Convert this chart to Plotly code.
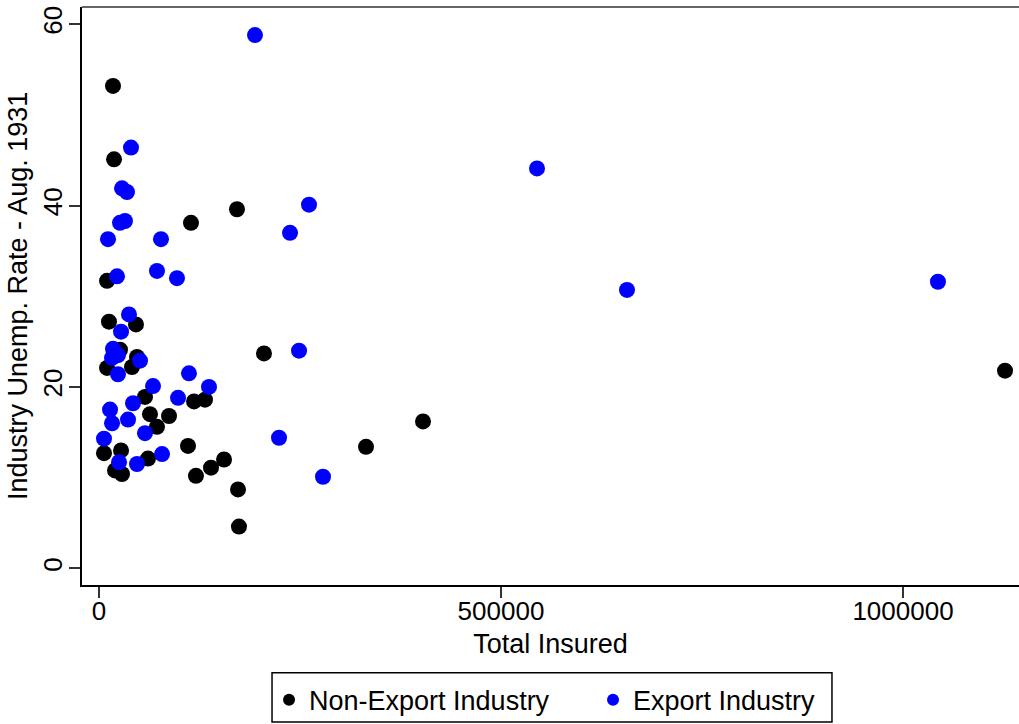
import plotly.graph_objects as go

# Non-Export Industry
nonexport_insured = [17400, 18700, 171600, 114400, 10000, 12400, 46000, 26100, 47300, 10000,
                     41000, 205200, 57200, 118200, 131800, 63400, 87100, 72100, 110700, 332100,
                     403000, 1126900, 6200, 27400, 60900, 155500, 19900, 28600, 120600, 139300,
                     172900, 174100]
nonexport_rate = [53.2, 45.1, 39.6, 38.1, 31.7, 27.2, 26.9, 24.1, 23.3, 22.1,
                  22.2, 23.7, 18.9, 18.4, 18.6, 17.0, 16.8, 15.6, 13.5, 13.4,
                  16.2, 21.8, 12.7, 13.0, 12.1, 12.0, 10.8, 10.4, 10.2, 11.1,
                  8.7, 4.6]

# Export Industry
export_insured = [194000, 544800, 656700, 1043500, 39800, 28600, 34800, 26100, 32300, 11200,
                  77100, 237600, 261200, 22400, 72100, 97000, 37300, 27400, 248800, 17400,
                  23600, 16200, 23600, 51000, 111900, 67200, 136800, 98300, 42300, 13700,
                  16200, 36100, 57200, 6200, 223900, 24900, 47300, 78400, 278600]
export_rate = [58.8, 44.1, 30.7, 31.6, 46.4, 41.9, 41.5, 38.1, 38.3, 36.3,
               36.3, 37.0, 40.1, 32.2, 32.8, 32.0, 28.0, 26.1, 24.0, 24.2,
               23.5, 23.2, 21.4, 22.9, 21.5, 20.1, 20.0, 18.8, 18.2, 17.5,
               16.0, 16.4, 14.9, 14.3, 14.4, 11.7, 11.5, 12.6, 10.1]

x_ticks = [0, 500000, 1000000]
x_ticklabels = ["0", "500000", "1000000"]
y_ticks = [0, 20, 40, 60]
y_title = "Industry Unemp. Rate - Aug. 1931"

FONT = "Liberation Sans, Arial, Helvetica, sans-serif"

fig = go.Figure()
fig.add_trace(go.Scatter(
    x=nonexport_insured, y=nonexport_rate, mode="markers", name="Non-Export Industry",
    marker=dict(color="#000000", size=16, line=dict(width=0)),
))
fig.add_trace(go.Scatter(
    x=export_insured, y=export_rate, mode="markers", name="Export Industry",
    marker=dict(color="#0000ff", size=16, line=dict(width=0)),
))

fig.update_layout(
    width=1019, height=724,
    margin=dict(l=82, r=0, t=7, b=139, autoexpand=False),
    paper_bgcolor="white", plot_bgcolor="white",
    font=dict(family=FONT, size=27, color="#000000"),
    showlegend=True,
    legend=dict(
        orientation="h", x=0.1996, xanchor="left", xref="paper",
        y=-0.157, yanchor="top",
        borderwidth=0, bgcolor="rgba(0,0,0,0)",
        font=dict(family=FONT, size=27, color="#000000"),
        itemsizing="constant",
        entrywidth=279,
    ),
    xaxis=dict(
        range=[-21150, 1144300],
        tickvals=x_ticks, ticktext=x_ticklabels,
        showgrid=False, zeroline=False, automargin=False,
        showline=True, linecolor="#000000", linewidth=2,
        ticks="outside", ticklen=11, tickwidth=2, tickcolor="#333333",
        ticklabelstandoff=-9,
        title=dict(text="Total Insured", font=dict(family=FONT, size=27), standoff=9),
        tickfont=dict(family=FONT, size=26),
    ),
    yaxis=dict(
        range=[-1.84, 61.9],
        tickvals=y_ticks,
        showgrid=False, zeroline=False, automargin=False,
        showline=True, linecolor="#000000", linewidth=2,
        ticks="outside", ticklen=11, tickwidth=2, tickcolor="#333333",
        tickangle=-90, ticklabelstandoff=-3,
        tickfont=dict(family=FONT, size=26),
    ),
    annotations=[dict(
        text=y_title, xref="paper", yref="paper", x=0, y=0.5,
        xanchor="center", yanchor="middle", xshift=-64, textangle=-90,
        showarrow=False, font=dict(family=FONT, size=27, color="#000000"),
    )],
    shapes=[
        dict(type="line", xref="paper", yref="paper", x0=0, x1=1, y0=1, y1=1,
             line=dict(color="#666666", width=2)),
        dict(type="rect", xref="paper", yref="paper", x0=0.2028, x1=0.8004, y0=-0.237, y1=-0.152,
             line=dict(color="#000000", width=1.5), fillcolor="rgba(0,0,0,0)"),
    ],
)

fig.write_html("out.html", config={"displayModeBar": False},
               post_script="document.body.style.margin='0';")
